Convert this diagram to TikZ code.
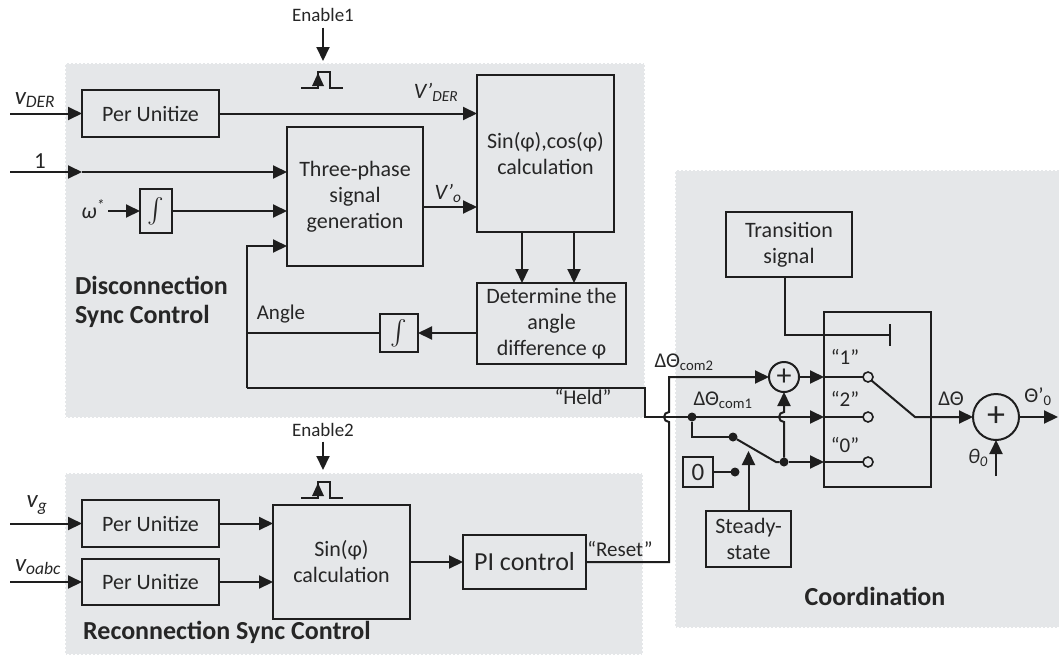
\documentclass[tikz,border=0pt]{standalone}
\usepackage{exscale}
\usepackage{fontspec}
\setmainfont{Carlito}
\usetikzlibrary{arrows.meta,calc}
\definecolor{bgc}{RGB}{229,231,233}
\definecolor{lnc}{RGB}{30,30,30}
\definecolor{txc}{RGB}{38,38,38}
\newcommand{\fsz}[1]{\fontsize{#1}{#1}\selectfont}
\begin{document}
\begin{tikzpicture}[x=1pt,y=-1pt,
  every node/.style={text=txc,inner sep=0pt,outer sep=0pt},
  blk/.style={draw=lnc,line width=2pt,align=center,anchor=north west,font=\fontsize{22}{26}\selectfont},
  wire/.style={draw=lnc,line width=2pt},
  arr/.style={wire,-{Triangle[length=14pt,width=13pt]}},
  dot/.style={circle,fill=lnc,minimum size=9pt},
  contact/.style={circle,draw=lnc,line width=1.6pt,fill=bgc,minimum size=10pt},
  sumc/.style={circle,draw=lnc,line width=2pt},
  region/.style={fill=bgc,draw=white,line width=1.2pt,dash pattern=on 2pt off 2pt},
  title/.style={font=\bfseries\fontsize{26}{29}\selectfont,align=left}
]
\useasboundingbox (0,0) rectangle (1059,659);
% regions
\path[region] (65,63) rectangle (645,418);
\path[region] (65,473) rectangle (643,655);
\path[region] (675,170) rectangle (1064,628);

% disconnection blocks
\node[blk,minimum width=137pt,minimum height=47pt] (pu1) at (82,90) {Per Unitize};
\node[blk,minimum width=136pt,minimum height=139pt] (tp) at (287,127) {Three-phase\\signal\\generation};
\node[blk,minimum width=137pt,minimum height=157pt] (sc) at (477,75) {Sin(φ),cos(φ)\\calculation};
\node[blk,minimum width=149pt,minimum height=81pt] (det) at (477,283) {Determine the\\angle\\difference φ};
\node[blk,minimum width=32pt,minimum height=44pt,font=\fsz{26}] (int1) at (140,189) {$\int$};
\node[blk,minimum width=38pt,minimum height=38pt,font=\fsz{26}] (int2) at (380,314) {$\int$};

% reconnection blocks
\node[blk,minimum width=137pt,minimum height=47pt] (pu2) at (82,500) {Per Unitize};
\node[blk,minimum width=137pt,minimum height=46pt] (pu3) at (82,559) {Per Unitize};
\node[blk,minimum width=137pt,minimum height=114pt] (sc2) at (273,505) {Sin(φ)\\calculation};
\node[blk,minimum width=123pt,minimum height=54pt,font=\fsz{26}] (pi) at (463,535) {PI control};

% coordination blocks
\node[blk,minimum width=126pt,minimum height=65pt] (ts) at (726,212) {Transition\\signal};
\node[blk,minimum width=107pt,minimum height=175pt] (sw) at (824,312) {};
\node[blk,minimum width=30pt,minimum height=30pt,font=\fsz{25}] (zero) at (683,457) {0};
\node[blk,minimum width=85pt,minimum height=56pt] (ss) at (706,511) {Steady-\\state};
\node[sumc,minimum size=30pt,font=\fsz{30}] (plus1) at (784,377) {+};
\node[sumc,minimum size=46pt,font=\fsz{36}] (plus2) at (996,417) {+};
\node[dot] (j1) at (692,417) {};
\node[dot] (s1) at (733,437) {};
\node[dot] (s0) at (735,472) {};
\node[dot] (piv) at (784,462) {};
\node[contact] (c1) at (868,377) {};
\node[contact] (c2) at (868,417) {};
\node[contact] (c0) at (868,462) {};

% labels
\node[font=\fsz{19}] (en1) at (323,15) {Enable1};
\node[font=\fsz{19}] (en2) at (323,430) {Enable2};
\node[font=\itshape\fsz{25}] (lvder) at (35,100) {v\textsubscript{DER}};
\node[font=\fsz{23}] (lone) at (40,161) {1};
\node[font=\itshape\fsz{22}] (lw) at (93,209) {ω\textsuperscript{*}};
\node[font=\itshape\fsz{22}] (lvd) at (436,92) {V’\textsubscript{DER}};
\node[font=\itshape\fsz{22}] (lvo) at (448,193) {V’\textsubscript{o}};
\node[font=\fsz{21}] (lang) at (281,314) {Angle};
\node[font=\fsz{21}] (lheld) at (583,397) {“Held”};
\node[font=\fsz{21}] (lreset) at (620,549) {“Reset”};
\node[title,anchor=west] (tdis) at (75,302) {Disconnection\\Sync Control};
\node[title] (trec) at (227,632) {Reconnection Sync Control};
\node[title] (tcoord) at (875,596) {Coordination};
\node[font=\itshape\fsz{25}] (lvg) at (37,505) {v\textsubscript{g}};
\node[font=\itshape\fsz{25}] (lvo2) at (38,567) {v\textsubscript{oabc}};
\node[font=\fsz{21}] (ldc2) at (684,362) {ΔΘ\textsubscript{com2}};
\node[font=\fsz{21}] (ldc1) at (723,400) {ΔΘ\textsubscript{com1}};
\node[font=\fsz{21}] (q1) at (845,357) {“1”};
\node[font=\fsz{21}] (q2) at (845,399) {“2”};
\node[font=\fsz{21}] (q0) at (845,445) {“0”};
\node[font=\fsz{21}] (ldt) at (951,399) {ΔΘ};
\node[font=\fsz{21}] (lto) at (1038,397) {Θ’\textsubscript{0}};
\node[font=\itshape\fsz{21}] (lt0) at (978,458) {θ\textsubscript{0}};

% pulses
\draw[wire] (301,88) -- (318,88) -- (318,72) -- (330,72) -- (330,88) -- (343,88);
\fill[lnc] (318,73) -- (312,86) -- (324,86) -- cycle;
\draw[wire] (301,498) -- (318,498) -- (318,482) -- (330,482) -- (330,498) -- (343,498);
\fill[lnc] (318,483) -- (312,496) -- (324,496) -- cycle;
\coordinate (e1t) at (323,61);
\coordinate (e2t) at (323,470);
\draw[arr] ([yshift=-6pt]en1.south) -- (e1t);
\draw[arr] ([yshift=-5pt]en2.south) -- (e2t);

% disconnection wires
\coordinate (vderin) at (10,113.5);
\draw[arr] (vderin) -- (pu1.west);
\draw[arr] (pu1.east) -- (sc.west |- pu1.east);
\coordinate (onein) at (10,172);
\coordinate (onemid) at (82,172);
\draw[arr] (onein) -- (onemid);
\draw[arr] (onemid) -- (tp.west |- onemid);
\coordinate (win) at (108,211);
\draw[arr] (win) -- (int1.west);
\draw[arr] (int1.east) -- (tp.west |- int1.east);
\coordinate (vo) at (423,207);
\draw[arr] (tp.east |- vo) -- (sc.west |- vo);
\coordinate (da) at (522,0);
\coordinate (db) at (574,0);
\draw[arr] (sc.south -| da) -- (det.north -| da);
\draw[arr] (sc.south -| db) -- (det.north -| db);
\draw[arr] (det.west |- int2.east) -- (int2.east);
\coordinate (fbtop) at (247,246);
\coordinate (fbbot) at (247,388);
\draw[wire] (int2.west) -- (fbtop |- int2.west);
\draw[arr] (fbbot) -- (fbtop) -- (tp.west |- fbtop);
\coordinate (heldc) at (645,388);
\coordinate (heldd) at (645,417);
\draw[arr] (fbbot) -- (heldc) -- (heldd) -- (sw.west |- heldd);
\draw[wire] (sw.west |- heldd) -- (c2.west);

% reconnection wires
\coordinate (vgin) at (10,523.5);
\draw[arr] (vgin) -- (pu2.west);
\draw[arr] (pu2.east) -- (sc2.west |- pu2.east);
\coordinate (voin) at (10,582);
\draw[arr] (voin) -- (pu3.west);
\draw[arr] (pu3.east) -- (sc2.west |- pu3.east);
\draw[arr] (sc2.east |- pi.west) -- (pi.west);
\coordinate (rb) at (669,562);
\coordinate (rh) at (669,422);
\coordinate (rt) at (669,377);
\draw[arr] (pi.east) -- (rb) -- (rh) arc[start angle=90,end angle=270,radius=5] -- (rt) -- (plus1.west);

% coordination wires
\draw[arr] (plus1.east) -- (sw.west |- plus1.east);
\draw[wire] (sw.west |- plus1.east) -- (c1.west);
\coordinate (tsx) at (785,0);
\coordinate (tb) at (890,335);
\draw[wire] (ts.south -| tsx) |- (tb);
\draw[wire] ([yshift=11pt]tb) -- ([yshift=-11pt]tb);
\draw[wire] (j1) |- (s1);
\draw[wire] (zero.east) -- (s0);
\coordinate (bk1) at (776,462);
\draw[wire] (s1) -- (bk1) -- (piv);
\draw[arr] (piv) -- (sw.west |- piv);
\draw[wire] (sw.west |- piv) -- (c0.west);
\coordinate (ph) at (784,422);
\draw[arr] (piv) -- (ph) arc[start angle=90,end angle=270,radius=5] -- (plus1.south);
\draw[arr] (ss.north) -- ++(0,-60);
\coordinate (bk) at (915,417);
\draw[arr] (c1.south east) -- (bk) -- (plus2.west);
\coordinate (th0) at (996,476);
\draw[arr] (th0) -- (plus2.south);
\coordinate (out) at (1058,417);
\draw[arr] (plus2.east) -- (out);
\end{tikzpicture}
\end{document}
